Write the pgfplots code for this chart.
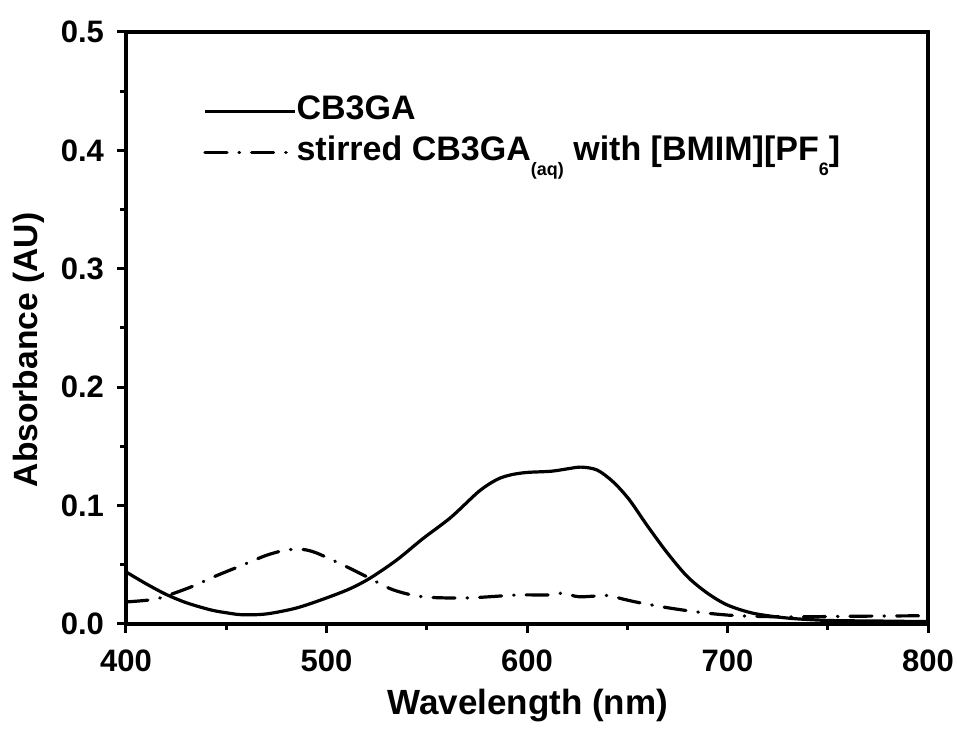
\documentclass[border=0pt]{standalone}
\usepackage{pgfplots}
\pgfplotsset{compat=1.18}
\usepackage{fontspec}
\setmainfont{Liberation Sans}
\newcommand{\sub}[1]{\raisebox{-7.5pt}{\fontsize{9}{10}\selectfont #1}}
\begin{document}
\begin{tikzpicture}
\begin{axis}[
  at={(0pt,0pt)}, anchor=south west,
  scale only axis,
  width=401pt, height=296pt,
  xmin=400, xmax=800, ymin=0, ymax=0.5,
  xtick={400,500,600,700,800},
  ytick={0,0.1,0.2,0.3,0.4,0.5},
  yticklabels={0.0,0.1,0.2,0.3,0.4,0.5},
  minor x tick num=1, minor y tick num=1,
  xtick pos=left, ytick pos=left,
  tick align=outside,
  major tick length=4.5pt, minor tick length=3pt,
  every tick/.style={line width=1.5pt, black},
  axis line style={line width=1.8pt},
  /pgf/number format/assume math mode=true,
  ticklabel style={font=\bfseries\fontsize{15.5}{18}\selectfont},
  xticklabel style={yshift=-5pt},
  yticklabel style={xshift=-3pt},
  xlabel={Wavelength (nm)},
  ylabel={Absorbance (AU)},
  xlabel style={font=\bfseries\fontsize{17.5}{20}\selectfont, at={(axis description cs:0.501,-0.137)}, anchor=center},
  ylabel style={font=\bfseries\fontsize{16.8}{20}\selectfont, at={(axis description cs:-0.121,0.463)}, anchor=center},
  legend style={draw=none, fill=none, at={(0.0885,0.904)}, anchor=north west,
    font=\bfseries\fontsize{17}{20}\selectfont, row sep=2.5pt,
    nodes={inner xsep=0pt, inner ysep=1pt, text height=12pt, text depth=4pt}},
  legend cell align=left,
  legend image code/.code={\draw[#1] (0pt,0pt) -- (45pt,0pt);},
]
\addplot[black, line width=1.6pt, smooth] coordinates {
(400,0.044) (410,0.034) (420,0.025) (430,0.018) (442,0.012) (450,0.0095)
(458,0.0078) (470,0.0085) (485,0.0135) (500,0.022) (512,0.030) (522,0.039)
(535,0.054) (548,0.072) (562,0.090) (576,0.112) (585,0.122) (592,0.126)
(600,0.128) (612,0.129) (620,0.131) (627,0.1325) (635,0.130) (643,0.120)
(651,0.105) (660,0.083) (670,0.060) (680,0.040) (690,0.026) (700,0.016)
(713,0.009) (730,0.005) (750,0.003) (775,0.0025) (800,0.002)
};
\addlegendentry{CB3GA}
\addplot[black, line width=1.6pt, smooth, line cap=round,
  dash pattern=on 11pt off 6pt on 0.3pt off 6pt] coordinates {
(400,0.0186) (410,0.020) (417,0.022) (432,0.031) (444,0.040) (457,0.049)
(470,0.058) (480,0.0625) (488,0.063) (495,0.060) (508,0.050) (520,0.040)
(533,0.029) (548,0.023) (570,0.022) (595,0.0245) (610,0.0245) (618,0.026)
(626,0.023) (640,0.024) (648,0.021) (656,0.018) (671,0.0135) (688,0.0095)
(705,0.007) (730,0.006) (760,0.0065) (800,0.007)
};
\addlegendentry{stirred CB3GA\sub{(aq)} with [BMIM][PF\sub{6}]}
\end{axis}
\pgfresetboundingbox
\path (-63pt,-53.5pt) rectangle (415.5pt,312pt);
\end{tikzpicture}
\end{document}
